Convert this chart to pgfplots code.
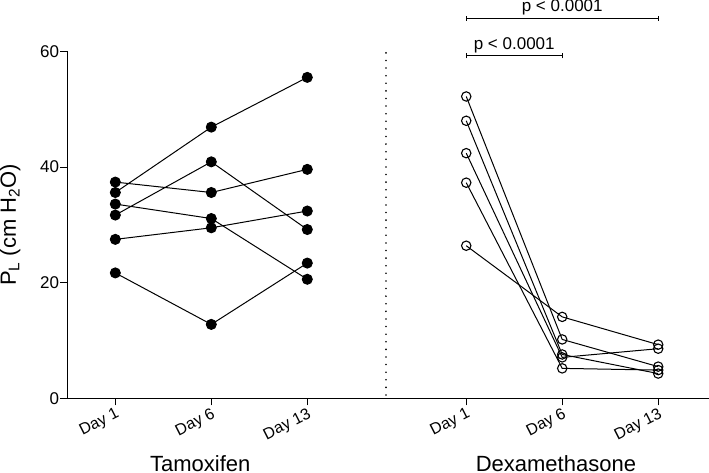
\documentclass[border=0pt]{standalone}
\usepackage{fontspec}
\setmainfont{Liberation Sans}
\usepackage{pgfplots}
\pgfplotsset{compat=1.18}
\begin{document}
\begin{tikzpicture}
\begin{axis}[
  scale only axis, width=641pt, height=347pt,
  xmin=-0.5, xmax=6.18, ymin=0, ymax=60,
  axis x line*=bottom, axis y line*=left,
  axis line style={line width=1pt},
  ytick={0,20,40,60},
  xtick={0,1,2,3.656,4.656,5.656},
  xticklabels={Day 1,Day 6,Day 13,Day 1,Day 6,Day 13},
  xticklabel style={rotate=27, anchor=north east, font=\fontsize{16}{19}\selectfont, inner sep=1pt},
  yticklabel style={font=\fontsize{17}{20}\selectfont, inner sep=1pt},
  /pgf/number format/assume math mode=true,
  tick style={black, line width=1pt},
  major tick length=7pt,
  tick align=outside,
  ylabel={P\textsubscript{L} (cm H\textsubscript{2}O)},
  ylabel style={font=\fontsize{22}{26}\selectfont, inner sep=0pt, at={(axis description cs:-0.089,0.5)}, anchor=center},
  clip=false,
]
% Tamoxifen
\addplot[black, line width=1pt, mark=*, mark size=5pt] coordinates {(0,35.6)(1,46.9)(2,55.5)};
\addplot[black, line width=1pt, mark=*, mark size=5pt] coordinates {(0,31.7)(1,40.9)(2,29.2)};
\addplot[black, line width=1pt, mark=*, mark size=5pt] coordinates {(0,37.4)(1,35.6)(2,39.6)};
\addplot[black, line width=1pt, mark=*, mark size=5pt] coordinates {(0,33.6)(1,31.1)(2,20.6)};
\addplot[black, line width=1pt, mark=*, mark size=5pt] coordinates {(0,27.5)(1,29.5)(2,32.4)};
\addplot[black, line width=1pt, mark=*, mark size=5pt] coordinates {(0,21.7)(1,12.8)(2,23.4)};
% Dexamethasone
\addplot[black, line width=1pt, mark=o, mark size=4.7pt, mark options={line width=1.1pt}] coordinates {(3.656,26.4)(4.656,14.1)(5.656,9.3)};
\addplot[black, line width=1pt, mark=o, mark size=4.7pt, mark options={line width=1.1pt}] coordinates {(3.656,52.2)(4.656,10.2)(5.656,5.5)};
\addplot[black, line width=1pt, mark=o, mark size=4.7pt, mark options={line width=1.1pt}] coordinates {(3.656,48.0)(4.656,7.6)(5.656,4.3)};
\addplot[black, line width=1pt, mark=o, mark size=4.7pt, mark options={line width=1.1pt}] coordinates {(3.656,42.4)(4.656,7.1)(5.656,8.6)};
\addplot[black, line width=1pt, mark=o, mark size=4.7pt, mark options={line width=1.1pt}] coordinates {(3.656,37.3)(4.656,5.2)(5.656,4.9)};
% separator
\draw[line width=1.8pt, dash pattern=on 0pt off 7.6pt, line cap=round] (axis cs:2.82,0.6) -- (axis cs:2.82,59.8);
% brackets
\draw[line width=1pt] (axis cs:3.656,65.7) -- (axis cs:5.656,65.7);
\draw[line width=1pt] ([yshift=-2.5pt]axis cs:3.656,65.7) -- ([yshift=2.5pt]axis cs:3.656,65.7);
\draw[line width=1pt] ([yshift=-2.5pt]axis cs:5.656,65.7) -- ([yshift=2.5pt]axis cs:5.656,65.7);
\node[anchor=base, inner sep=0pt, font=\fontsize{17}{20}\selectfont] at ([yshift=6.5pt]axis cs:4.656,65.7) {p < 0.0001};
\draw[line width=1pt] (axis cs:3.656,59.2) -- (axis cs:4.656,59.2);
\draw[line width=1pt] ([yshift=-2.5pt]axis cs:3.656,59.2) -- ([yshift=2.5pt]axis cs:3.656,59.2);
\draw[line width=1pt] ([yshift=-2.5pt]axis cs:4.656,59.2) -- ([yshift=2.5pt]axis cs:4.656,59.2);
\node[anchor=base, inner sep=0pt, font=\fontsize{17}{20}\selectfont] at ([yshift=6.5pt]axis cs:4.156,59.2) {p < 0.0001};
% group labels
\node[anchor=base, inner sep=0pt, font=\fontsize{22}{26}\selectfont] at (axis cs:0.885,-12.6) {Tamoxifen};
\node[anchor=base, inner sep=0pt, font=\fontsize{22}{26}\selectfont] at (axis cs:4.59,-12.7) {Dexamethasone};
\end{axis}
\end{tikzpicture}
\end{document}
